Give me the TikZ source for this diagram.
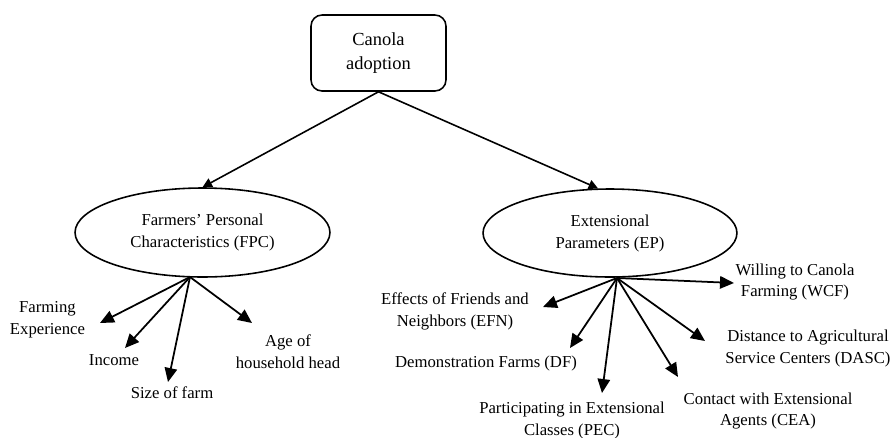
\documentclass[tikz,border=0pt]{standalone}
\usepackage{fontspec}
\setmainfont{Liberation Serif}
\usetikzlibrary{arrows.meta,shapes.geometric}

\begin{document}
\begin{tikzpicture}[x=0.02cm,y=-0.02cm,
    box/.style={draw,line width=0.9pt,rounded corners=0.22cm,minimum width=2.7cm,minimum height=1.52cm,align=center,font=\fontsize{10.5}{14}\selectfont},
    oval/.style={draw,ellipse,line width=0.9pt,inner sep=0pt,align=center,font=\fontsize{9.5}{12.5}\selectfont},
    lbl/.style={align=center,inner sep=0pt,font=\fontsize{9.5}{12.5}\selectfont},
    arr/.style={line width=1pt,-{Triangle[length=2.8mm,width=2.5mm]}},
    toparr/.style={line width=0.9pt,-{Triangle[length=1.9mm,width=1.9mm]}}]
    \useasboundingbox (0,0) rectangle (894,437);

    % Top of the tree
    \node[box] (canola) at (378.5,53) {Canola\\adoption};

    % The two groups
    \node[oval,minimum width=5.1cm,minimum height=1.78cm] (fpc) at (202.5,232.5) {Farmers’ Personal\\Characteristics (FPC)};
    \node[oval,minimum width=5.08cm,minimum height=1.76cm] (ep) at (610,233) {Extensional\\Parameters (EP)};

    \draw[toparr] (canola.south) -- (fpc.north);
    \draw[toparr] (canola.south) -- (ep.105);

    % Farmers' personal characteristics
    \coordinate (fpcfoot) at (190,277);
    \node[lbl] (farmexp) at (47.5,320) {Farming\\Experience};
    \node[lbl] (income) at (114,360) {Income};
    \node[lbl] (farmsize) at (172,393) {Size of farm};
    \node[lbl] (agehead) at (288,352) {Age of\\household head};

    \coordinate (farmexptip) at (100,323);
    \coordinate (incometip) at (125,348);
    \coordinate (farmsizetip) at (168,382);
    \coordinate (ageheadtip) at (252,323);

    \draw[arr] (fpcfoot) -- (farmexptip);
    \draw[arr] (fpcfoot) -- (incometip);
    \draw[arr] (fpcfoot) -- (farmsizetip);
    \draw[arr] (fpcfoot) -- (ageheadtip);

    % Extensional parameters
    \coordinate (epfoot) at (617,278);
    \node[lbl] (wcf) at (795,282) {Willing to Canola\\Farming (WCF)};
    \node[lbl] (efn) at (455,311) {Effects of Friends and\\Neighbors (EFN)};
    \node[lbl] (df) at (486,363) {Demonstration Farms (DF)};
    \node[lbl] (pec) at (572,420) {Participating in Extensional\\Classes (PEC)};
    \node[lbl] (cea) at (768,411) {Contact with Extensional\\Agents (CEA)};
    \node[lbl] (dasc) at (808,348) {Distance to Agricultural\\Service Centers (DASC)};

    \coordinate (wcftip) at (734,283);
    \coordinate (efntip) at (543,307);
    \coordinate (dftip) at (570,348);
    \coordinate (pectip) at (602,393);
    \coordinate (ceatip) at (678,377);
    \coordinate (dasctip) at (705,341);

    \draw[arr] (epfoot) -- (wcftip);
    \draw[arr] (epfoot) -- (efntip);
    \draw[arr] (epfoot) -- (dftip);
    \draw[arr] (epfoot) -- (pectip);
    \draw[arr] (epfoot) -- (ceatip);
    \draw[arr] (epfoot) -- (dasctip);
\end{tikzpicture}
\end{document}
